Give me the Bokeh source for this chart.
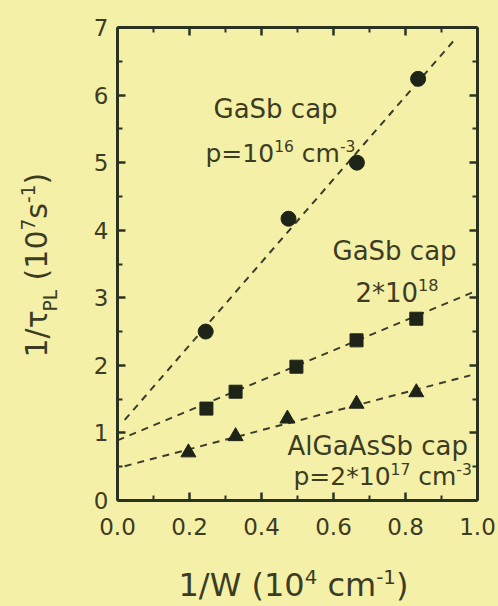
import math
from bokeh.plotting import figure
from bokeh.layouts import row, column
from bokeh.models import (Label, LinearAxis, FixedTicker, Range1d, ColumnDataSource,
                          CustomJSTickFormatter, PrintfTickFormatter)
from bokeh.embed import file_html
from bokeh.resources import INLINE

# ---------------- data ----------------
x_circle = [0.245, 0.475, 0.665, 0.835]
y_circle = [2.50, 4.17, 5.00, 6.24]

x_square = [0.247, 0.328, 0.497, 0.664, 0.830]
y_square = [1.36, 1.61, 1.98, 2.37, 2.69]

x_triangle = [0.197, 0.328, 0.472, 0.664, 0.830]
y_triangle = [0.71, 0.95, 1.21, 1.43, 1.60]

# linear fits: y = intercept + slope * x, drawn between x_start and x_end
fit_intercept = [1.07, 0.89, 0.48]
fit_slope = [6.14, 2.22, 1.40]
fit_x_start = [0.02, 0.00, 0.02]
fit_x_end = [0.94, 1.00, 0.98]

x_ticks = [0.0, 0.2, 0.4, 0.6, 0.8, 1.0]
x_minor = [0.1, 0.3, 0.5, 0.7, 0.9]
y_ticks = [0, 1, 2, 3, 4, 5, 6, 7]
y_minor = [0.5, 1.5, 2.5, 3.5, 4.5, 5.5, 6.5]

# ---------------- layout / style ----------------
W_PAGE, H_PAGE = 498, 606
LEFT_W = 60            # strip holding the y-axis title
MAIN_H = 550           # main plot height; below it a strip with the x-axis title
FL, FR, FT, FB = 117, 477, 27, 500   # frame edges in page pixels
XMIN, XMAX, YMIN, YMAX = 0.0, 1.0, 0.0, 7.0
BG = "#f5f0a8"
AX = "#2a3320"
TXT = "#3c3c22"
MK = "#1f2418"
FONT = "DejaVu Sans"
BASE_FIX = 0.38        # renderer places the alphabetic baseline this many em too low

p = figure(width=W_PAGE - LEFT_W, height=MAIN_H, output_backend="svg", toolbar_location=None,
           x_range=Range1d(XMIN, XMAX), y_range=Range1d(YMIN, YMAX),
           min_border_left=FL - LEFT_W, min_border_right=W_PAGE - FR,
           min_border_top=FT, min_border_bottom=MAIN_H - FB)
p.background_fill_color = BG
p.border_fill_color = BG
p.outline_line_color = None
p.xgrid.visible = False
p.ygrid.visible = False

blank = CustomJSTickFormatter(code="return ''")

def style_axis(ax, ticks, minor, labels=True):
    ax.ticker = FixedTicker(ticks=ticks, minor_ticks=minor)
    ax.axis_line_width = 3
    ax.axis_line_color = AX
    ax.major_tick_in = 8
    ax.major_tick_out = 0
    ax.minor_tick_in = 5
    ax.minor_tick_out = 0
    ax.major_tick_line_width = 2.5
    ax.minor_tick_line_width = 2
    ax.major_tick_line_color = AX
    ax.minor_tick_line_color = AX
    ax.axis_label = None
    if labels:
        ax.major_label_text_font = FONT
        ax.major_label_text_font_size = "23px"
        ax.major_label_text_color = TXT
    else:
        ax.formatter = blank

style_axis(p.xaxis[0], x_ticks, x_minor)
p.xaxis[0].formatter = PrintfTickFormatter(format="%.1f")
p.xaxis[0].major_label_standoff = 17
style_axis(p.yaxis[0], y_ticks, y_minor)
p.yaxis[0].major_label_standoff = 9
top = LinearAxis()
style_axis(top, x_ticks, x_minor, labels=False)
right = LinearAxis()
style_axis(right, y_ticks, y_minor, labels=False)
p.add_layout(top, "above")
p.add_layout(right, "right")

# ---------------- fits ----------------
for b, m, xa, xb in zip(fit_intercept, fit_slope, fit_x_start, fit_x_end):
    src = ColumnDataSource(dict(x=[xa, xb], y=[b + m * xa, b + m * xb]))
    p.line("x", "y", source=src, line_color="#3a3d2a", line_width=2, line_dash="7 6")

# ---------------- markers ----------------
p.scatter(x_circle, y_circle, marker="circle", size=15, fill_color=MK, line_color=MK)
p.scatter(x_square, y_square, marker="square", size=13, fill_color=MK, line_color=MK)
p.scatter(x_triangle, y_triangle, marker="triangle", size=15, fill_color=MK, line_color=MK)

# ---------------- side strips for the axis titles ----------------
def strip(w, h, x0, x1, y0, y1, bl, br):
    f = figure(width=w, height=h, output_backend="svg", toolbar_location=None,
               x_axis_type=None, y_axis_type=None,
               min_border_left=bl, min_border_right=br, min_border_top=0, min_border_bottom=0,
               x_range=Range1d(x0, x1), y_range=Range1d(y1, y0))
    f.background_fill_color = BG
    f.border_fill_color = BG
    f.outline_line_color = None
    return f

ystrip = strip(LEFT_W, H_PAGE, 0, LEFT_W, 0, H_PAGE, 0, 0)
# the column aligns this strip's frame with the main frame, so map the same pixels
xstrip = strip(W_PAGE - LEFT_W, H_PAGE - MAIN_H, FL, FR, MAIN_H, H_PAGE,
               FL - LEFT_W, W_PAGE - FR)

# ---------------- rich text helper ----------------
WID = {' ': .318, '(': .390, ')': .390, '*': .5, '-': .361, '/': .337, '=': .838,
       'A': .684, 'G': .775, 'L': .557, 'P': .603, 'S': .635, 'W': .989,
       'a': .613, 'b': .635, 'c': .550, 'l': .278, 'm': .974, 'p': .635, 's': .521,
       'τ': .56}
for d in "0123456789":
    WID[d] = .636

def tw(s, size):
    return sum(WID.get(ch, .6) for ch in s) * size

def main_x(px):
    return XMIN + (px - FL) / (FR - FL) * (XMAX - XMIN)

def main_y(py):
    return YMIN + (FB - py) / (FB - FT) * (YMAX - YMIN)

def ident(v):
    return v

def rich(fig, segments, x0, y0, size, angle=0.0, fx=ident, fy=ident, color=TXT):
    pos = 0.0
    for text, kind in segments:
        fs = size if kind == "n" else size * 0.62
        # SVG drops leading blanks, so turn them into an explicit advance
        stripped = text.lstrip(" ")
        pos += tw(text[:len(text) - len(stripped)], fs)
        shift = 0.0 if kind == "n" else (0.42 * size if kind == "sup" else -0.33 * size)
        shift += BASE_FIX * fs
        if angle == 0:
            px, py = x0 + pos, y0 - shift
        else:
            px, py = x0 - shift, y0 - pos
        fig.add_layout(Label(x=fx(px), y=fy(py), text=stripped, text_font=FONT,
                             text_font_size=f"{fs:.1f}px", text_color=color,
                             text_align="left", text_baseline="alphabetic", angle=angle))
        pos += tw(stripped, fs)

rich(p, [("GaSb cap", "n")], 213, 118, 26, fx=main_x, fy=main_y)
rich(p, [("p=10", "n"), ("16", "sup"), (" cm", "n"), ("-3", "sup")], 205, 162, 25, fx=main_x, fy=main_y)
rich(p, [("GaSb cap", "n")], 332, 260, 26, fx=main_x, fy=main_y)
rich(p, [("2*10", "n"), ("18", "sup")], 355, 302, 26, fx=main_x, fy=main_y)
rich(p, [("AlGaAsSb cap", "n")], 287, 455, 26, fx=main_x, fy=main_y)
rich(p, [("p=2*10", "n"), ("17", "sup"), (" cm", "n"), ("-3", "sup")], 293, 485, 25, fx=main_x, fy=main_y)

rich(xstrip, [("1/W (10", "n"), ("4", "sup"), (" cm", "n"), ("-1", "sup"), (")", "n")], 178, 597, 32)
rich(ystrip, [("1/τ", "n"), ("PL", "sub"), (" (10", "n"), ("7", "sup"), ("s", "n"), ("-1", "sup"), (")", "n")],
     47, 357, 30, angle=math.pi / 2)

layout = row(ystrip, column(p, xstrip, spacing=0), spacing=0)
layout.background = BG
open("out.html", "w").write(file_html(layout, INLINE))
